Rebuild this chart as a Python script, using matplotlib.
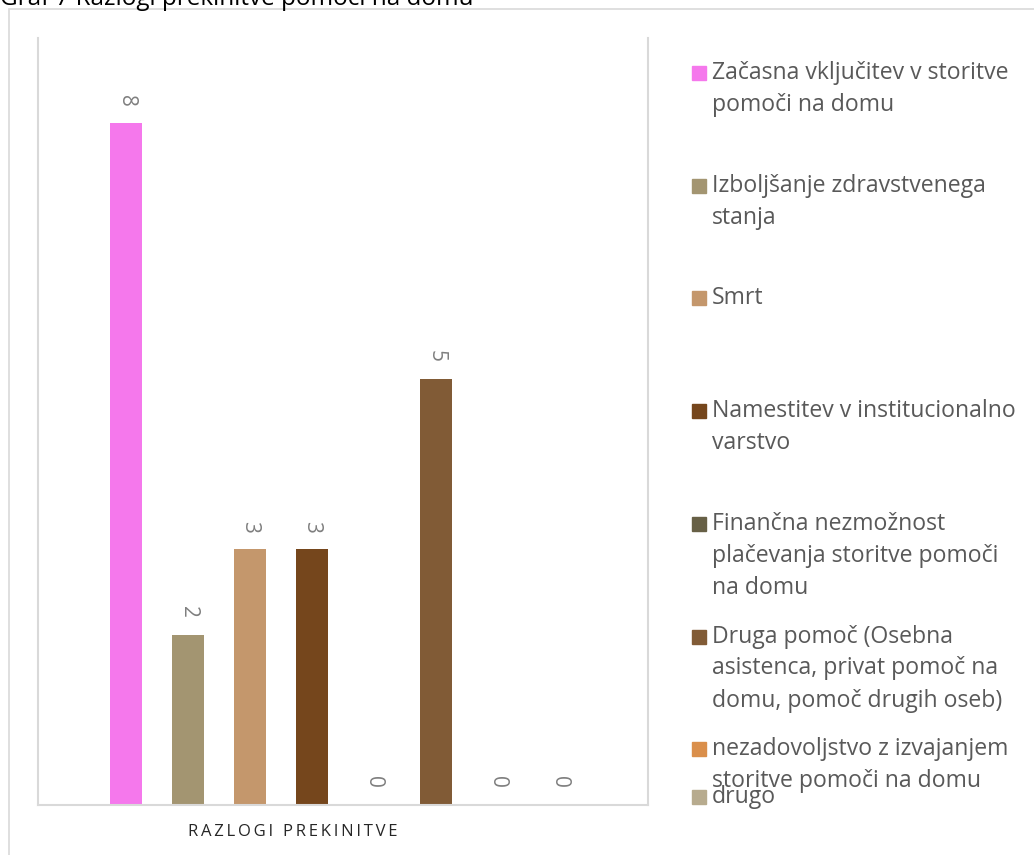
import matplotlib.pyplot as plt
from matplotlib.patches import Rectangle
import numpy as np

plt.rcParams['font.family'] = ['Open Sans', 'DejaVu Sans']

# data
labels = [
    'Začasna vključitev v storitve\npomoči na domu',
    'Izboljšanje zdravstvenega\nstanja',
    'Smrt',
    'Namestitev v institucionalno\nvarstvo',
    'Finančna nezmožnost\nplačevanja storitve pomoči\nna domu',
    'Druga pomoč (Osebna\nasistenca, privat pomoč na\ndomu, pomoč drugih oseb)',
    'nezadovoljstvo z izvajanjem\nstoritve pomoči na domu',
    'drugo',
]
values = [8, 2, 3, 3, 0, 5, 0, 0]
colors = ['#F578EC', '#A39571', '#C4976C', '#75461C',
          '#676046', '#815B36', '#DA8F4B', '#B7AB8E']
category = 'RAZLOGI PREKINITVE'
title = 'Graf 7 Razlogi prekinitve pomoči na domu'

W, H = 1034, 855
fig = plt.figure(figsize=(W / 100, H / 100), dpi=100)

def fx(px):
    return px / W

def fy(py):
    return 1 - py / H

# outer chart frame (cut off at right and bottom)
fig.patches.append(Rectangle((fx(9), fy(900)), fx(1100), (900 - 9) / H,
                             transform=fig.transFigure, fill=False,
                             edgecolor='#D9D9D9', linewidth=1.2))

fig.text(fx(0), fy(5), title, fontsize=17.5, color='black', ha='left', va='baseline')

ax = fig.add_axes([fx(38), fy(805), fx(648 - 38), (805 - 38) / H])
n = len(values)
x = np.arange(n) - (n - 1) / 2
bars = ax.bar(x, values, width=0.53, color=colors)
for xi, v in zip(x, values):
    ax.annotate(str(v), (xi, v), xytext=(0, 12), textcoords='offset points',
                ha='center', va='bottom', rotation=-90, fontsize=15, color='#7F7F7F')

ax.set_xlim(-4.92, 4.92)
ax.set_ylim(0, 9)
ax.set_xticks([])
ax.set_yticks([])
ax.spines['top'].set_visible(False)
for s in ['left', 'right', 'bottom']:
    ax.spines[s].set_color('#D9D9D9')
    ax.spines[s].set_linewidth(1.5)

# letter-spaced category label
spaced = '\u2009 \u2009'.join('\u2009'.join(w) for w in category.split(' '))
fig.text(fx(293), fy(832), spaced, fontsize=12, color='#262626',
         ha='center', va='center')

# legend drawn by hand (last entry overlaps like in the source)
row_y = [73 + 112.7 * i for i in range(n - 1)] + [797]
for lab, col, y0 in zip(labels, colors, row_y):
    fig.patches.append(Rectangle((fx(692), fy(y0 + 7)), fx(14), 14 / H,
                                 transform=fig.transFigure, color=col))
    for k, line in enumerate(lab.split('\n')):
        fig.text(fx(712), fy(y0 + 32 * k), line, fontsize=16.6, color='#595959',
                 ha='left', va='center')

fig.savefig('out.png', dpi=100)
